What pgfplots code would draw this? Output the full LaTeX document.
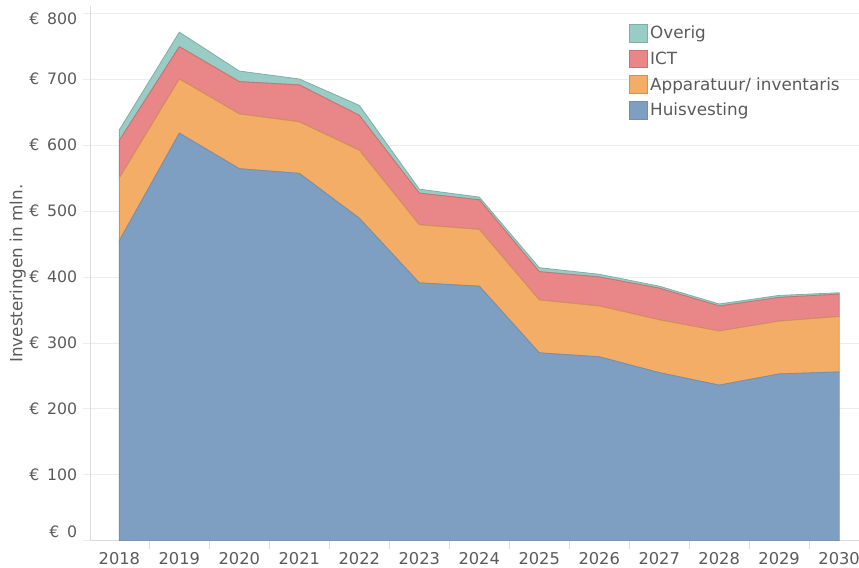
\documentclass[border=0pt]{standalone}
\usepackage{fontspec}
\setmainfont{DejaVu Sans}
\usepackage{pgfplots}
\pgfplotsset{compat=1.18}

\definecolor{huis}{RGB}{127,159,194}
\definecolor{app}{RGB}{244,173,102}
\definecolor{ict}{RGB}{232,134,136}
\definecolor{overig}{RGB}{152,204,196}
\definecolor{txt}{RGB}{90,90,90}
\definecolor{gridc}{RGB}{236,236,236}

\newcommand{\eur}[1]{€\hspace{0.5em}#1}

\begin{document}
\begin{tikzpicture}
\begin{axis}[
    scale only axis,
    width=577pt, height=401pt,
    xmin=2017.51, xmax=2030.33,
    ymin=0, ymax=810,
    stack plots=y,
    axis x line*=bottom, axis y line*=left,
    axis line style={gridc!85!gray, line width=0.6pt},
    tick align=outside,
    major x tick style={draw=none},
    minor x tick style={gridc!85!gray, line width=0.6pt},
    minor tick length=6pt,
    ytick style={gridc, line width=0.6pt},
    major tick length=5pt,
    ytick={0,100,...,800},
    yticklabels={\raisebox{6.5pt}{\eur{0}},\eur{100},\eur{200},\eur{300},\eur{400},\eur{500},\eur{600},\eur{700},\raisebox{-4pt}{\eur{800}}},
    xtick={2018,...,2030},
    minor xtick={2018.5,2019.5,...,2029.5},
    xticklabel style={font=\fontsize{12.2}{14}\selectfont, text=txt, yshift=-0.5pt},
    yticklabel style={font=\fontsize{11.8}{13}\selectfont, text=txt, anchor=base east, yshift=-4.3pt, xshift=-1pt},
    /pgf/number format/assume math mode=true,
    /pgf/number format/1000 sep={},
    ymajorgrids,
    grid style={gridc, line width=0.6pt},
    ylabel={Investeringen in mln.},
    ylabel style={font=\fontsize{12.6}{14}\selectfont, text=txt,
        at={(axis description cs:-0.094,0.50)}, anchor=center},
    reverse legend,
    legend cell align=left,
    legend style={at={(0.695,0.974)}, anchor=north west, draw=none, fill=none,
        font=\fontsize{12.6}{14}\selectfont, text=txt,
        row sep=4.3pt},
    legend image code/.code={\fill[#1] (0pt,-6.7pt) rectangle (13.5pt,6.7pt);},
]
\addplot[fill=huis, draw=huis!90!black, line width=0.6pt] coordinates {
(2018,455) (2019,618) (2020,564) (2021,557) (2022,489) (2023,391) (2024,386)
(2025,285) (2026,279) (2027,255) (2028,236) (2029,253) (2030,256)} \closedcycle;
\addlegendentry{Huisvesting}
\addplot[fill=app, draw=app!85!black, line width=0.6pt] coordinates {
(2018,95) (2019,82) (2020,83) (2021,78) (2022,103) (2023,88) (2024,86)
(2025,80) (2026,77) (2027,80) (2028,82) (2029,80) (2030,84)} \closedcycle;
\addlegendentry{Apparatuur/ inventaris}
\addplot[fill=ict, draw=ict!85!black, line width=0.6pt] coordinates {
(2018,57) (2019,49) (2020,49) (2021,56) (2022,53) (2023,48) (2024,45)
(2025,43) (2026,44) (2027,48) (2028,38) (2029,36) (2030,34)} \closedcycle;
\addlegendentry{ICT}
\addplot[fill=overig, draw=overig!85!black, line width=0.6pt] coordinates {
(2018,16) (2019,22) (2020,16) (2021,9) (2022,15) (2023,6) (2024,4)
(2025,6) (2026,4) (2027,3) (2028,3) (2029,3) (2030,2)} \closedcycle;
\addlegendentry{Overig}
\end{axis}
\pgfresetboundingbox
\path[use as bounding box] (-67.5pt,-20.25pt) rectangle (577pt,405.8pt);
\end{tikzpicture}
\end{document}
